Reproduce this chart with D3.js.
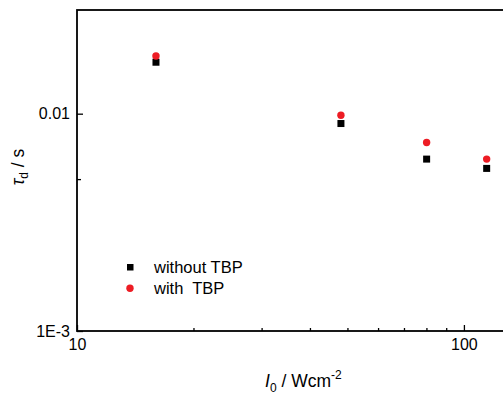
<!DOCTYPE html>
<html>
<head>
<meta charset="utf-8">
<script src="https://cdn.jsdelivr.net/npm/d3@7"></script>
<style>
  html, body { margin: 0; padding: 0; background: #fff; }
  svg { display: block; }
  text { font-family: "Liberation Sans", Arial, sans-serif; }
</style>
</head>
<body>
<div id="chart"></div>
<script>
// ---- data ----
const intensity = [16.0, 48.1, 80.1, 114.5];           // I0 / W cm^-2
const tauWithout = [0.01725, 0.00901, 0.00618, 0.0056]; // without TBP
const tauWith = [0.01843, 0.00984, 0.00737, 0.00618];   // with TBP
const seriesNames = ["without TBP", "with  TBP"];
const xMajorTicks = [10, 100];
const xMinorTicks = [20, 30, 40, 50, 60, 70, 80, 90];
const yMajorTicks = [0.001, 0.01];
const yTickLabels = ["1E-3", "0.01"];
const yMinorTicks = [0.005];

const W = 503, H = 394;
const margin = { left: 77, top: 10, right: 508, bottom: 331 };

const svg = d3.select("#chart").append("svg")
  .attr("width", W).attr("height", H);

const x = d3.scaleLog().domain([10, 130]).range([margin.left, 508]);
const y = d3.scaleLog().domain([0.001, 0.03]).range([margin.bottom, margin.top]);

// frame
svg.append("rect")
  .attr("x", x(10)).attr("y", y(0.03))
  .attr("width", x(130) - x(10)).attr("height", y(0.001) - y(0.03))
  .attr("fill", "none").attr("stroke", "#000").attr("stroke-width", 1.8);

// x axis
const gx = svg.append("g").attr("transform", `translate(0,${margin.bottom})`);
gx.call(d3.axisBottom(x).tickValues(xMajorTicks).tickSizeInner(-6).tickSizeOuter(0)
  .tickPadding(8).tickFormat(d3.format("d")));
const gxm = svg.append("g").attr("transform", `translate(0,${margin.bottom})`);
gxm.call(d3.axisBottom(x).tickValues(xMinorTicks).tickSizeInner(-3).tickSizeOuter(0)
  .tickFormat(""));

// y axis
const gy = svg.append("g").attr("transform", `translate(${margin.left},0)`);
gy.call(d3.axisLeft(y).tickValues(yMajorTicks).tickSizeInner(-6).tickSizeOuter(0)
  .tickPadding(7).tickFormat((d, i) => yTickLabels[i]));
const gym = svg.append("g").attr("transform", `translate(${margin.left},0)`);
gym.call(d3.axisLeft(y).tickValues(yMinorTicks).tickSizeInner(-4).tickSizeOuter(0)
  .tickFormat(""));

svg.selectAll(".domain").remove();
svg.selectAll(".tick line").attr("stroke", "#000").attr("stroke-width", 1.3);
svg.selectAll(".tick text").attr("font-size", 16).attr("fill", "#000")
  .attr("font-family", "Liberation Sans, Arial, sans-serif");

// data points
const red = "#ed1c24";
const sq = 7;
svg.append("g").selectAll("rect").data(intensity).join("rect")
  .attr("x", (d) => x(d) - sq / 2)
  .attr("y", (d, i) => y(tauWithout[i]) - sq / 2)
  .attr("width", sq).attr("height", sq).attr("fill", "#000");
svg.append("g").selectAll("circle").data(intensity).join("circle")
  .attr("cx", (d) => x(d))
  .attr("cy", (d, i) => y(tauWith[i]))
  .attr("r", 3.7).attr("fill", red);

// legend
const lg = svg.append("g");
lg.append("rect").attr("x", 130 - 3).attr("y", 267 - 3).attr("width", 6.5).attr("height", 6.5).attr("fill", "#000");
lg.append("circle").attr("cx", 130).attr("cy", 288.3).attr("r", 3.7).attr("fill", red);
lg.append("text").attr("x", 154).attr("y", 273.3).attr("font-size", 16.5)
  .style("white-space", "pre").text(seriesNames[0]);
lg.append("text").attr("x", 154).attr("y", 293.5).attr("font-size", 16.5)
  .style("white-space", "pre").text(seriesNames[1]);

// x title
const xt = svg.append("text").attr("x", 265).attr("y", 387).attr("font-size", 17.5);
xt.append("tspan").attr("font-style", "italic").text("I");
xt.append("tspan").attr("font-size", 12).attr("dy", 5).text("0");
xt.append("tspan").attr("dy", -5).style("white-space", "pre").text(" / Wcm");
xt.append("tspan").attr("font-size", 12).attr("dy", -8).text("-2");

// y title
const yt = svg.append("text").attr("transform", "translate(24,167) rotate(-90)")
  .attr("text-anchor", "middle").attr("font-size", 17.5);
yt.append("tspan").attr("font-style", "italic").text("τ");
yt.append("tspan").attr("font-size", 12).attr("dy", 4).text("d");
yt.append("tspan").attr("dy", -4).style("white-space", "pre").text(" / s");
</script>
</body>
</html>
